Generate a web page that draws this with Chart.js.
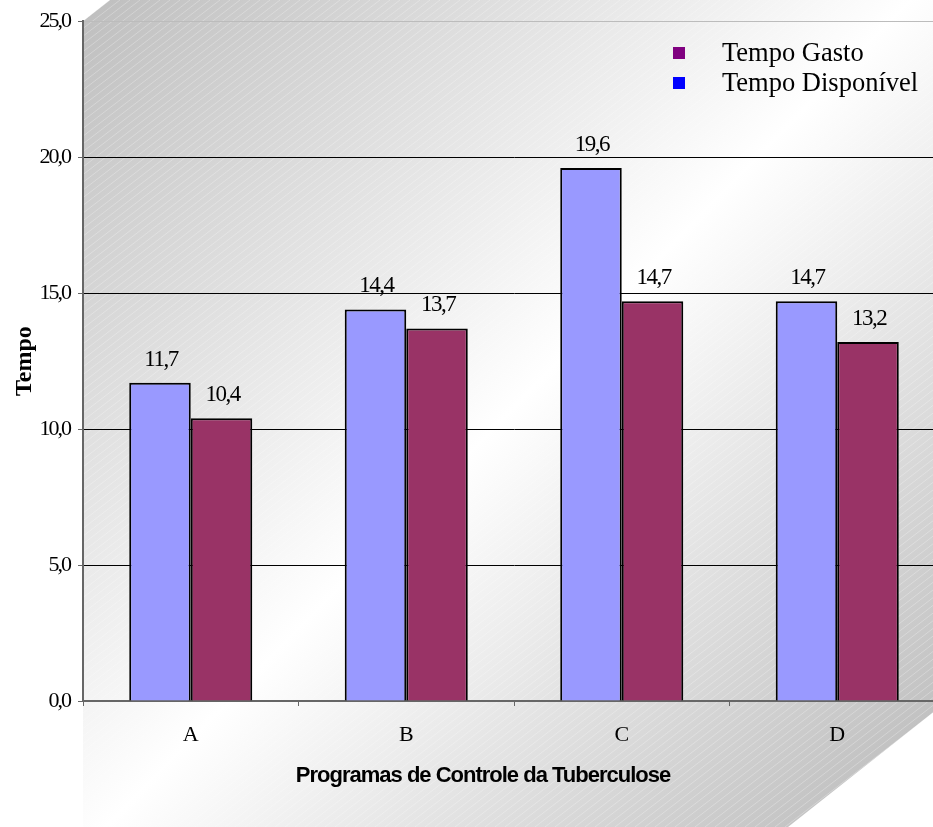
<!DOCTYPE html>
<html>
<head>
<meta charset="utf-8">
<script src="https://cdn.jsdelivr.net/npm/chart.js@4.4.1/dist/chart.umd.min.js"></script>
<style>
  html, body { margin: 0; padding: 0; background: #ffffff; overflow: hidden; }
  #wrap { width: 960px; height: 827px; }
</style>
</head>
<body>
<div id="wrap"><canvas id="c" width="960" height="827"></canvas></div>
<script>
// Tempo por programa de controle da tuberculose
const programas = ['A', 'B', 'C', 'D'];
const tempoDisponivel = [11.7, 14.4, 19.6, 14.7];
const tempoGasto = [10.4, 13.7, 14.7, 13.2];
const yTicks = [0, 5, 10, 15, 20, 25];
const legendNames = ['Tempo Gasto', 'Tempo Disponível'];
const legendColors = ['#800080', '#0000FF'];
const yTitle = 'Tempo';
const xTitle = 'Programas de Controle da Tuberculose';

const fmt = v => Number(v).toFixed(1).replace('.', ',');
const SERIF = "'Liberation Serif', 'Times New Roman', serif";
const SANS = "'Liberation Sans', Arial, sans-serif";

const panelPlugin = {
  id: 'panel',
  beforeDraw(chart) {
    const { ctx, width, height } = chart;
    const left = chart.chartArea.left;
    const top = chart.chartArea.top;
    ctx.letterSpacing = '0px';
    ctx.save();
    ctx.beginPath();
    ctx.moveTo(left, top);
    ctx.lineTo(left + 27, 0);
    ctx.lineTo(width, 0);
    ctx.lineTo(width, 691);
    ctx.lineTo(788, height);
    ctx.lineTo(left, height);
    ctx.closePath();
    const g = ctx.createLinearGradient(left, 0, 933, height);
    g.addColorStop(0, '#bebebe');
    g.addColorStop(0.5, '#ffffff');
    g.addColorStop(1, '#b8b8b8');
    ctx.fillStyle = g;
    ctx.fill();
    ctx.clip();
    // fine diagonal hatching over the panel
    ctx.strokeStyle = 'rgba(255,255,255,0.28)';
    ctx.lineWidth = 1;
    for (let k = -height * 1.3; k < width; k += 10) {
      ctx.beginPath();
      ctx.moveTo(k, height);
      ctx.lineTo(k + height * 1.3, 0);
      ctx.stroke();
    }
    ctx.restore();
  },
  afterDatasetsDraw(chart) {
    const ctx = chart.ctx;
    ctx.save();
    ctx.letterSpacing = '-1.5px';
    ctx.font = '23px ' + SERIF;
    ctx.fillStyle = '#000';
    ctx.textAlign = 'center';
    ctx.textBaseline = 'alphabetic';
    chart.data.datasets.forEach((ds, i) => {
      chart.getDatasetMeta(i).data.forEach((bar, j) => {
        ctx.fillText(fmt(ds.data[j]), bar.x + 1, bar.y - 17);
      });
    });
    ctx.restore();
    // the value-axis tick labels (ticks.z = 1) are drawn next, set tight
    ctx.letterSpacing = '-2px';
  },
  afterDraw(chart) {
    const ctx = chart.ctx;
    ctx.letterSpacing = '0px';
    ctx.save();
    ctx.letterSpacing = '-1px';
    ctx.font = 'bold 22px ' + SANS;
    ctx.fillStyle = '#000';
    ctx.textAlign = 'center';
    ctx.textBaseline = 'alphabetic';
    ctx.fillText(xTitle, 483, 782);
    ctx.letterSpacing = '0px';
    ctx.restore();

    // legend
    ctx.save();
    ctx.font = '26.5px ' + SERIF;
    ctx.textAlign = 'left';
    ctx.textBaseline = 'alphabetic';
    legendNames.forEach((name, i) => {
      const y = 47 + i * 30;
      ctx.fillStyle = legendColors[i];
      ctx.fillRect(673, y, 12, 12);
      ctx.fillStyle = '#000';
      ctx.fillText(name, 722, y + 14);
    });
    ctx.restore();
  }
};

new Chart(document.getElementById('c').getContext('2d'), {
  type: 'bar',
  data: {
    labels: programas,
    datasets: [
      { label: 'Tempo Disponível', data: tempoDisponivel, backgroundColor: '#9999FF', borderColor: '#000000', borderWidth: 2 },
      { label: 'Tempo Gasto', data: tempoGasto, backgroundColor: '#993366', borderColor: '#000000', borderWidth: 2 }
    ]
  },
  options: {
    responsive: false,
    animation: false,
    devicePixelRatio: 1,
    layout: { padding: { top: 21, right: 15, left: 0, bottom: 0 } },
    plugins: { legend: { display: false }, tooltip: { enabled: false } },
    datasets: { bar: { categoryPercentage: 0.571, barPercentage: 1 } },
    scales: {
      x: {
        grid: { drawOnChartArea: false, color: '#666666', tickLength: 5, lineWidth: 1 },
        border: { color: '#666666', width: 2 },
        ticks: { font: { family: SERIF, size: 22 }, color: '#000', padding: 16 },
        afterFit(s) { s.height = 126; }
      },
      y: {
        min: 0,
        max: 25,
        afterBuildTicks(s) { s.ticks = yTicks.map(v => ({ value: v })); },
        ticks: { z: 1, callback: v => fmt(v), font: { family: SERIF, size: 22 }, color: '#000', padding: 8 },
        grid: {
          color: c => (c.tick && c.tick.value === 25) ? '#bcbcbc' : (c.tick && c.tick.value === 0 ? 'rgba(0,0,0,0)' : '#000000'),
          tickColor: '#666666',
          tickLength: 5,
          lineWidth: 1
        },
        border: { color: '#666666', width: 2 },
        title: { display: true, text: yTitle, color: '#000', font: { family: SERIF, size: 24, weight: 'bold' }, padding: { top: 10, bottom: 0 } },
        afterFit(s) { s.width = 83; }
      }
    }
  },
  plugins: [panelPlugin]
});
</script>
</body>
</html>
